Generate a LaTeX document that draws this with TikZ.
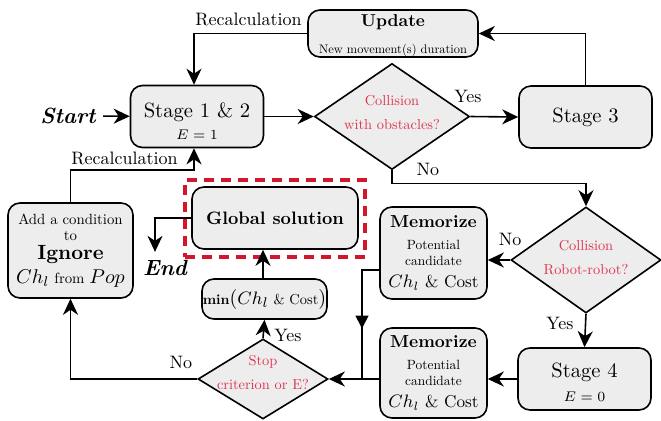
\documentclass[tikz,border=0pt]{standalone}
\usepackage{fontspec}
\setmainfont{lmroman10}[Extension=.otf, UprightFont=*-regular, BoldFont=*-bold, ItalicFont=*-italic, BoldItalicFont=*-bolditalic]
\usetikzlibrary{shapes.geometric,arrows.meta,decorations.markings}
\definecolor{boxfill}{HTML}{EDEDED}
\definecolor{qred}{HTML}{E0334D}
\definecolor{framered}{HTML}{D4162C}
\begin{document}
\begin{tikzpicture}[x=0.5pt,y=-0.5pt,
  box/.style={draw, line width=0.8pt, rounded corners=6pt, fill=boxfill, align=center, inner sep=0pt},
  dec/.style={diamond, draw, line width=0.8pt, fill=boxfill, align=center, inner sep=-8pt, text=qred, font=\fontsize{7.2}{12}\selectfont},
  arr/.style={-{Stealth[length=8pt,width=7.5pt,inset=2.5pt]}, line width=0.8pt},
  ln/.style={line width=0.8pt},
  lbl/.style={font=\fontsize{9}{10}\selectfont, inner sep=0pt},
  term/.style={font=\fontsize{11}{12}\selectfont\bfseries\itshape}]
\useasboundingbox (0,0) rectangle (661,420);

% nodes
\node[box, minimum width=66.5pt, minimum height=31pt, text height=23.4pt, font=\fontsize{10.3}{11}\selectfont] (s12) at (197,116.5)
  {Stage 1 \& 2\\{\fontsize{7}{11}\selectfont $E=1$}};
\node[box, minimum width=85pt, minimum height=23.5pt, text height=21.4pt, font=\fontsize{8.6}{13.5}\selectfont] (up) at (393,33.5)
  {\textbf{Update}\\{\fontsize{6.2}{13.5}\selectfont New movement(s) duration}};
\node[box, minimum width=66.5pt, minimum height=31pt, font=\fontsize{10.3}{11}\selectfont] (s3) at (585.5,117) {Stage 3};
\node[dec, minimum width=77.5pt, minimum height=53pt, text depth=4.5pt] (d1) at (392,116.5) {Collision\\with obstacles?};
\node[dec, minimum width=75pt, minimum height=53pt, text depth=3pt] (d2) at (586,260) {Collision\\Robot-robot?};
\node[box, minimum width=53.5pt, minimum height=46pt, font=\fontsize{8}{8}\selectfont] (m1) at (433.5,253)
  {{\fontsize{8.7}{8}\selectfont\bfseries Memorize}\\[3pt]{\fontsize{6.7}{8}\selectfont Potential}\\{\fontsize{6.7}{8}\selectfont candidate}\\[3pt]{\fontsize{8.6}{8}\selectfont $Ch_l$ \& Cost}};
\node[box, minimum width=53.5pt, minimum height=45pt, font=\fontsize{8}{8}\selectfont] (m2) at (433.5,373)
  {{\fontsize{8.7}{8}\selectfont\bfseries Memorize}\\[3pt]{\fontsize{6.7}{8}\selectfont Potential}\\{\fontsize{6.7}{8}\selectfont candidate}\\[3pt]{\fontsize{8.6}{8}\selectfont $Ch_l$ \& Cost}};
\node[box, minimum width=66.5pt, minimum height=31pt, text height=22.6pt, font=\fontsize{10.3}{12}\selectfont] (s4) at (584.5,379)
  {Stage 4\\{\fontsize{7}{12}\selectfont $E=0$}};
\node[dec, minimum width=65pt, minimum height=40pt, text depth=7pt] (d3) at (263,379) {Stop\\criterion or E?};
\node[box, minimum width=62.5pt, minimum height=20pt] (mn) at (264.5,299)
  {{\fontsize{7}{8}\selectfont\bfseries min}{\fontsize{10}{12}\selectfont(}{\fontsize{9.5}{12}\selectfont$Ch_l$}{\fontsize{7.2}{8}\selectfont\ \& Cost}{\fontsize{10}{12}\selectfont)}};
\node[draw=framered, line width=1.6pt, dash pattern=on 5pt off 3.5pt, minimum width=90pt, minimum height=38.5pt, inner sep=0pt] (fr) at (275,218.5) {};
\node[box, minimum width=83pt, minimum height=31pt, font=\fontsize{9}{10}\selectfont\bfseries] (g) at (275,218) {Global solution};
\node[box, minimum width=62.5pt, minimum height=47.5pt, font=\fontsize{7.4}{8}\selectfont] (add) at (70.5,250.5)
  {Add a condition\\to\\[1.5pt]{\fontsize{10.3}{8}\selectfont\bfseries Ignore}\\[2pt]{\fontsize{10}{8}\selectfont $Ch_l$} from {\fontsize{10}{8}\selectfont $Pop$}};
\node[term, inner xsep=3.5pt] (start) at (68,116) {Start};
\node[term, inner xsep=0pt, inner ysep=4pt] (end) at (165,268) {End};

% labels
\node[lbl] (l1) at (248.5,19) {Recalculation};
\node[lbl] (l2) at (124.5,158) {Recalculation};
\node[lbl] (l3) at (468,96) {Yes};
\node[lbl] (l4) at (428,169) {No};
\node[lbl] (l5) at (510,239) {No};
\node[lbl] (l6) at (560,323) {Yes};
\node[lbl] (l7) at (288,335) {Yes};
\node[lbl] (l8) at (181,362) {No};

\coordinate (j) at (362,379);

% connectors
\draw[arr] (start) -- (s12);
\draw[arr] (s12.east) -- (d1.west);
\draw[arr] (d1.east) -- (s3.west);
\draw[arr] (s3.north) |- (up.east);
\draw[arr] (up.west) -| ([xshift=-1.5pt]s12.north);
\draw[arr] (d1.south) -- ++(0,13) -| (d2.north);
\draw[arr] (d2.west) -- (d2.west -| m1.east);
\draw[arr] (d2.south) -- (s4.north);
\draw[arr] (s4.west) -- (s4.west -| m2.east);
\draw[ln, postaction={decorate}, decoration={markings, mark=at position 0.6 with {\arrow{Triangle[length=6.5pt,width=6.5pt]}}}]
  ([yshift=-8.5pt]m1.west) -| (j);
\draw[arr] (m2.west |- d3.east) -- (d3.east);
\draw[arr] (d3.north) -- (mn.south);
\draw[arr] (mn.north -| d3.north) -- (d3.north |- g.south);
\draw[arr] (d3.west) -| (add.south);
\draw[arr] (add.north) -- ++(0,-32) -| ([xshift=-1.5pt]s12.south);
\draw[arr] (g.west) -| ([xshift=-5pt]end.north);
\end{tikzpicture}
\end{document}
